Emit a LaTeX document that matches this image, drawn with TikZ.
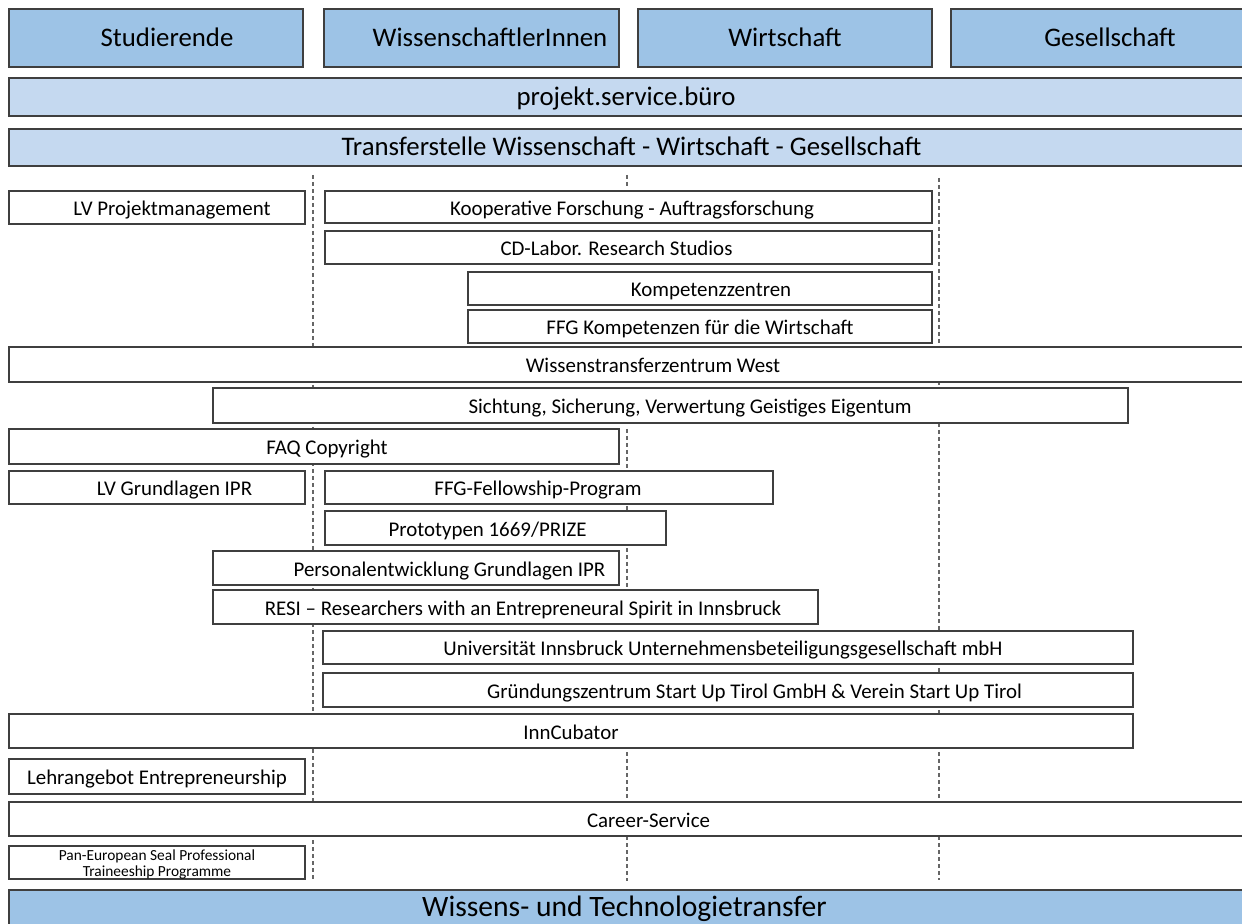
\documentclass[tikz,border=0pt]{standalone}
\usepackage{fontspec}
\setmainfont{Carlito}
\usetikzlibrary{fit}
\definecolor{grpblue}{HTML}{9DC3E6}
\definecolor{barblue}{HTML}{C5D9F0}
\definecolor{rimgray}{HTML}{3F3F3F}
\definecolor{sepgray}{HTML}{666666}

\begin{document}
\begin{tikzpicture}[x=0.5pt,y=-0.5pt,
    box/.style={draw=rimgray,line width=0.7pt,inner sep=0pt,fill=white},
    grp/.style={box,fill=grpblue},
    bar/.style={box,fill=barblue},
    sep/.style={draw=sepgray,line width=0.6pt,dash pattern=on 2pt off 1.5pt},
    every label/.style={text height=1.6ex,text depth=0.45ex,yshift=-1.5pt}]
	\useasboundingbox (0,0) rectangle (1242,924);
	\clip (0,0) rectangle (1242,924);

	% Trennlinien
	\coordinate (sepLa) at (313,175);
	\coordinate (sepLb) at (313,880);
	\coordinate (sepRa) at (939,178);
	\coordinate (sepRb) at (939,880);
	\coordinate (sepMa) at (627,175);
	\coordinate (sepMb) at (627,189);
	\coordinate (sepMc) at (627,429);
	\coordinate (sepMd) at (627,588);
	\coordinate (sepMe) at (627,752);
	\coordinate (sepMf) at (627,881);
	\draw[sep] (sepLa) -- (sepLb);
	\draw[sep] (sepRa) -- (sepRb);
	\draw[sep] (sepMa) -- (sepMb);
	\draw[sep] (sepMc) -- (sepMd);
	\draw[sep] (sepMe) -- (sepMf);

	% Zielgruppen und Dachstellen
	\begin{scope}[font=\fontsize{13.4}{15}\selectfont]
	    \node[grp,fit={(9,9)(303,67)},label={[xshift=5.5pt]center:Studierende}] (stud) {};
	    \node[grp,fit={(324,9)(619,67)},label={[xshift=9.25pt]center:WissenschaftlerInnen}] (wiss) {};
	    \node[grp,fit={(638,9)(932,67)},label={center:Wirtschaft}] (wirt) {};
	    \node[grp,fit={(951,9)(1260,67)},label={[xshift=2.25pt]center:Gesellschaft}] (ges) {};
	    \node[bar,fit={(9,78)(1260,116)},label={[xshift=-4.25pt]center:projekt.service.büro}] (psb) {};
	    \node[bar,fit={(9,129)(1260,166)},label={[xshift=-1.5pt]center:Transferstelle Wissenschaft - Wirtschaft - Gesellschaft}] (tst) {};
	    \node[grp,fit={(9,890)(1260,926)},label={[xshift=-5pt,font=\fontsize{14.8}{17}\selectfont]center:Wissens- und Technologietransfer}] (wtt) {};
	\end{scope}

	% Angebote
	\begin{scope}[font=\fontsize{10.45}{12.5}\selectfont]
	    \node[box,fit={(9,191)(305,224)},label={[xshift=7.5pt]center:LV Projektmanagement}] (lvpm) {};
	    \node[box,fit={(325,191)(932,223)},label={[xshift=1.75pt]center:Kooperative Forschung - Auftragsforschung}] (koop) {};
	    \node[box,fit={(325,231)(932,264)},label={[xshift=-6pt]center:CD-Labor. Research Studios}] (cdlab) {};
	    \node[box,fit={(468,272)(932,305)},label={[xshift=5.5pt]center:Kompetenzzentren}] (kompz) {};
	    \node[box,fit={(468,310)(932,343)},label={center:FFG Kompetenzen für die Wirtschaft}] (ffgk) {};
	    \node[box,fit={(9,347)(1260,382)},label={[xshift=9.25pt]center:Wissenstransferzentrum West}] (wtz) {};
	    \node[box,fit={(213,388)(1128,423)},label={[xshift=9.75pt]center:Sichtung, Sicherung, Verwertung Geistiges Eigentum}] (sicht) {};
	    \node[box,fit={(9,429)(619,464)},label={[xshift=6.5pt]center:FAQ Copyright}] (faq) {};
	    \node[box,fit={(9,471)(305,504)},label={[xshift=8.75pt]center:LV Grundlagen IPR}] (lvipr) {};
	    \node[box,fit={(325,471)(773,504)},label={[xshift=-5.5pt]center:FFG-Fellowship-Program}] (fellow) {};
	    \node[box,fit={(325,511)(666,545)},label={[xshift=-4pt]center:Prototypen 1669/PRIZE}] (proto) {};
	    \node[box,fit={(213,551)(619,585)},label={[xshift=16.75pt]center:Personalentwicklung Grundlagen IPR}] (perso) {};
	    \node[box,fit={(213,590)(818,624)},label={[xshift=3.75pt]center:RESI – Researchers with an Entrepreneural Spirit in Innsbruck}] (resi) {};
	    \node[box,fit={(323,631)(1133,664)},label={[xshift=-2.5pt]center:Universität Innsbruck Unternehmensbeteiligungsgesellschaft mbH}] (ubg) {};
	    \node[box,fit={(323,673)(1133,707)},label={[xshift=13.25pt]center:Gründungszentrum Start Up Tirol GmbH \& Verein Start Up Tirol}] (gruend) {};
	    \node[box,fit={(9,714)(1133,748)},label={center:InnCubator}] (innc) {};
	    \node[box,fit={(9,759)(305,794)},label={center:Lehrangebot Entrepreneurship}] (lehr) {};
	    \node[box,fit={(9,802)(1260,836)},label={[xshift=7pt]center:Career-Service}] (career) {};
	\end{scope}

	\begin{scope}[every label/.style={yshift=-1pt}]
	    \node[box,fit={(9,846)(305,879)},label={[align=center,font=\fontsize{7.7}{6.4}\selectfont]center:Pan-European Seal Professional\\Traineeship Programme}] (pan) {};
	\end{scope}

\end{tikzpicture}
\end{document}
